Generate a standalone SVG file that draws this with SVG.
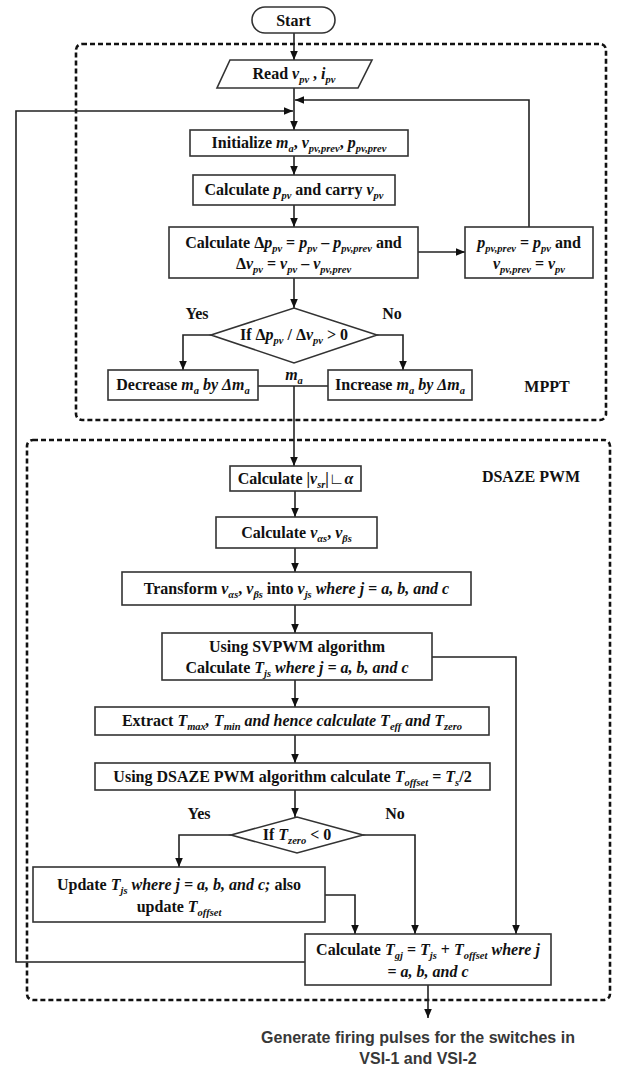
<svg xmlns="http://www.w3.org/2000/svg" width="618" height="1067" viewBox="0 0 618 1067">
<defs>
<marker id="ah" markerWidth="10" markerHeight="10" refX="9" refY="5" orient="auto" markerUnits="userSpaceOnUse">
<path d="M0,1.2 L9,5 L0,8.8 Z" fill="#111"/>
</marker>
<style>
.b{fill:#fff;stroke:#333;stroke-width:1.6}
.d{fill:none;stroke:#111;stroke-width:2.6;stroke-dasharray:5 3}
.c{fill:none;stroke:#222;stroke-width:1.6}
.a{marker-end:url(#ah)}
.n{font-family:"Liberation Serif","Times New Roman",serif;font-weight:bold;font-size:16px;text-anchor:middle;fill:#111}
.i{font-style:italic}
.s{font-size:10.5px;baseline-shift:-3.5px}
.g{font-family:"Liberation Sans",Arial,sans-serif;font-weight:bold;font-size:16px;text-anchor:middle;fill:#383838}
</style>
</defs>
<rect id="mppt-region" class="d" x="76" y="44" width="530" height="376" rx="6"/>
<rect id="dsaze-region" class="d" x="27" y="440" width="583" height="560" rx="6"/>
<g id="connectors">
<path class="c a" d="M294,33 V60"/>
<path class="c a" d="M294,88 V130"/>
<path class="c a" d="M529,227 V100 H295"/>
<path class="c a" d="M305,962 H16 V111 H293"/>
<path class="c a" d="M294,156 V175"/>
<path class="c a" d="M294,205 V227"/>
<path class="c a" d="M418,252 H465"/>
<path class="c a" d="M294,278 V308"/>
<path class="c a" d="M211,335 H183 V370"/>
<path class="c a" d="M377,335 H403 V370"/>
<path class="c" d="M258,386 H328"/>
<path class="c a" d="M294,386 V466"/>
<path class="c a" d="M295,491 V517"/>
<path class="c a" d="M295,548 V572"/>
<path class="c a" d="M295,605 V633"/>
<path class="c a" d="M295,680 V707"/>
<path class="c a" d="M295,735 V763"/>
<path class="c a" d="M295,790 V817"/>
<path class="c a" d="M432,657 H516 V934"/>
<path class="c a" d="M231,835 H179 V867"/>
<path class="c a" d="M363,835 H415 V934"/>
<path class="c a" d="M325,895 H355 V934"/>
<path class="c a" d="M428,985 V1018"/>
</g>
<g id="start"><rect class="b" x="252" y="7" width="83" height="26" rx="13"/><text class="n" x="293.5" y="26" font-size="17">Start</text></g>
<g id="read"><polygon class="b" points="230,60 372,60 358,88 217,88"/><text class="n" x="294" y="79">Read <tspan class="i">v</tspan><tspan class="i s">pv</tspan> , <tspan class="i">i</tspan><tspan class="i s">pv</tspan></text></g>
<g id="initialize"><rect class="b" x="190" y="130" width="218" height="26"/><text class="n" x="299" y="148">Initialize <tspan class="i">m</tspan><tspan class="i s">a</tspan>, <tspan class="i">v</tspan><tspan class="i s">pv,prev</tspan>, <tspan class="i">p</tspan><tspan class="i s">pv,prev</tspan></text></g>
<g id="calc-ppv"><rect class="b" x="193" y="175" width="202" height="30"/><text class="n" x="294" y="195">Calculate <tspan class="i">p</tspan><tspan class="i s">pv</tspan> and carry <tspan class="i">v</tspan><tspan class="i s">pv</tspan></text></g>
<g id="calc-delta"><rect class="b" x="169" y="227" width="249" height="51"/>
<text class="n" x="293.5" y="248">Calculate Δ<tspan class="i">p</tspan><tspan class="i s">pv</tspan> = <tspan class="i">p</tspan><tspan class="i s">pv</tspan> – <tspan class="i">p</tspan><tspan class="i s">pv,prev</tspan> and</text>
<text class="n" x="293.5" y="269">Δ<tspan class="i">v</tspan><tspan class="i s">pv</tspan> = <tspan class="i">v</tspan><tspan class="i s">pv</tspan> – <tspan class="i">v</tspan><tspan class="i s">pv,prev</tspan></text></g>
<g id="update-prev"><rect class="b" x="465" y="227" width="128" height="51"/>
<text class="n" x="529" y="248"><tspan class="i">p</tspan><tspan class="i s">pv,prev</tspan> = <tspan class="i">p</tspan><tspan class="i s">pv</tspan> and</text>
<text class="n" x="529" y="269"><tspan class="i">v</tspan><tspan class="i s">pv,prev</tspan> = <tspan class="i">v</tspan><tspan class="i s">pv</tspan></text></g>
<g id="decision-mppt"><polygon class="b" points="211,335 294,308 377,335 294,363"/><text class="n" x="294" y="340">If Δ<tspan class="i">p</tspan><tspan class="i s">pv</tspan> / Δ<tspan class="i">v</tspan><tspan class="i s">pv</tspan><tspan dx="4">&gt; 0</tspan></text>
<text class="n" x="197" y="319">Yes</text><text class="n" x="392" y="319">No</text></g>
<g id="decrease"><rect class="b" x="108" y="370" width="150" height="30"/><text class="n" x="183" y="390">Decrease <tspan class="i">m</tspan><tspan class="i s">a</tspan> <tspan class="i">by Δm</tspan><tspan class="i s">a</tspan></text></g>
<g id="increase"><rect class="b" x="328" y="370" width="144" height="30"/><text class="n" x="400" y="390">Increase <tspan class="i">m</tspan><tspan class="i s">a</tspan> <tspan class="i">by Δm</tspan><tspan class="i s">a</tspan></text></g>
<g id="ma-label"><text class="n" x="294" y="380"><tspan class="i">m</tspan><tspan class="i s">a</tspan></text></g>
<g id="mppt-label"><text class="n" x="547" y="392">MPPT</text></g>
<g id="dsaze-label"><text class="n" x="531" y="482">DSAZE PWM</text></g>
<g id="calc-vsr"><rect class="b" x="230" y="466" width="131" height="25"/><text class="n" x="295.5" y="484">Calculate |<tspan class="i">v</tspan><tspan class="i s">sr</tspan>|∟<tspan class="i">α</tspan></text></g>
<g id="calc-vab"><rect class="b" x="216" y="517" width="161" height="31"/><text class="n" x="296.5" y="538">Calculate <tspan class="i">v</tspan><tspan class="i s">αs</tspan>, <tspan class="i">v</tspan><tspan class="i s">βs</tspan></text></g>
<g id="transform"><rect class="b" x="122" y="572" width="349" height="33"/><text class="n" x="296.5" y="594">Transform <tspan class="i">v</tspan><tspan class="i s">αs</tspan>, <tspan class="i">v</tspan><tspan class="i s">βs</tspan> into <tspan class="i">v</tspan><tspan class="i s">js</tspan> <tspan class="i">where j = a, b, and c</tspan></text></g>
<g id="svpwm"><rect class="b" x="162" y="633" width="270" height="47"/>
<text class="n" x="297" y="652">Using SVPWM algorithm</text>
<text class="n" x="297" y="673">Calculate <tspan class="i">T</tspan><tspan class="i s">js</tspan> <tspan class="i">where j = a, b, and c</tspan></text></g>
<g id="extract"><rect class="b" x="95" y="707" width="394" height="28"/><text class="n" x="292" y="726">Extract <tspan class="i">T</tspan><tspan class="i s">max</tspan><tspan class="i">, T</tspan><tspan class="i s">min</tspan> <tspan class="i">and hence calculate T</tspan><tspan class="i s">eff</tspan> <tspan class="i">and T</tspan><tspan class="i s">zero</tspan></text></g>
<g id="dsaze-offset"><rect class="b" x="95" y="763" width="395" height="27"/><text class="n" x="292.5" y="782">Using DSAZE PWM algorithm calculate <tspan class="i">T</tspan><tspan class="i s">offset</tspan> = <tspan class="i">T</tspan><tspan class="i s">s</tspan>/2</text></g>
<g id="decision-tzero"><polygon class="b" points="231,835 297,817 363,835 297,853"/><text class="n" x="297" y="840">If <tspan class="i">T</tspan><tspan class="i s">zero</tspan> &lt; 0</text>
<text class="n" x="199" y="819">Yes</text><text class="n" x="395" y="819">No</text></g>
<g id="update-tjs"><rect class="b" x="33" y="867" width="292" height="55"/>
<text class="n" x="179" y="890">Update <tspan class="i">T</tspan><tspan class="i s">js</tspan> <tspan class="i">where j = a, b, and c;</tspan> also</text>
<text class="n" x="179" y="912">update <tspan class="i">T</tspan><tspan class="i s">offset</tspan></text></g>
<g id="calc-tgj"><rect class="b" x="305" y="934" width="246" height="51"/>
<text class="n" x="428" y="955">Calculate <tspan class="i">T</tspan><tspan class="i s">gj</tspan> = <tspan class="i">T</tspan><tspan class="i s">js</tspan> + <tspan class="i">T</tspan><tspan class="i s">offset</tspan> <tspan class="i">where j</tspan></text>
<text class="n" x="428" y="977">= <tspan class="i">a, b, and c</tspan></text></g>
<g id="generate"><text class="g" x="418" y="1043">Generate firing pulses for the switches in</text><text class="g" x="418" y="1064">VSI-1 and VSI-2</text></g>
</svg>
